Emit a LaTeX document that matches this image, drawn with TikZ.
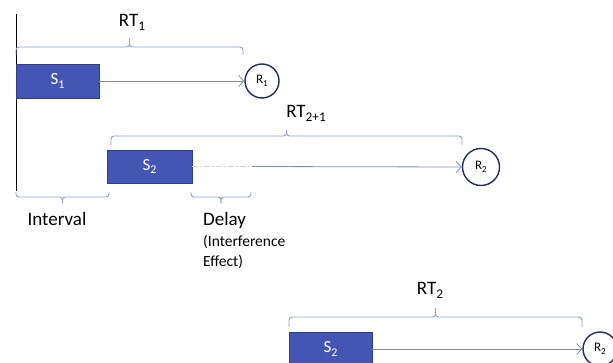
\documentclass[tikz,border=0pt]{standalone}
\usepackage{fontspec}
\setmainfont{Carlito}
\usetikzlibrary{arrows.meta}
\definecolor{boxfill}{RGB}{68,86,180}
\definecolor{boxedge}{RGB}{47,62,140}
\definecolor{ringedge}{RGB}{31,45,105}
\definecolor{flowline}{RGB}{125,142,176}
\definecolor{bracecol}{RGB}{140,160,200}
\newcommand{\lowsub}[1]{\raisebox{-0.45ex}{\scalebox{0.7}{#1}}}
% bracket: x-left, x-right, y of bar, y of the two ends, y of the tip
\newcommand{\bracketspan}[5]{%
  \draw[spanline] (#1,#4) -- (#1,#3) -- ({(#1+#2)/2},#3) -- ({(#1+#2)/2},#5);
  \draw[spanline] (#2,#4) -- (#2,#3) -- ({(#1+#2)/2},#3) -- ({(#1+#2)/2},#5);}
\tikzset{
  stim/.style={draw=boxedge, fill=boxfill, line width=0.8pt, text=white,
    inner sep=0pt, font=\fontsize{17}{17}\selectfont},
  resp/.style={circle, draw=ringedge, fill=white, line width=1.4pt,
    inner sep=0pt, font=\fontsize{13}{13}\selectfont},
  flow/.style={draw=flowline, line width=0.8pt,
    -{Straight Barb[length=5pt,width=11pt,line width=0.8pt]}},
  spanline/.style={draw=bracecol, line width=0.9pt, rounded corners=3pt},
  lbl/.style={inner sep=0pt, font=\fontsize{19}{19}\selectfont},
  note/.style={inner sep=0pt, anchor=west, font=\fontsize{15.5}{15.5}\selectfont},
}
\begin{document}
\begin{tikzpicture}[x=1pt, y=-1pt]
\useasboundingbox (0,0) rectangle (613,362);

% time axis
\coordinate (axtop) at (16,14);
\coordinate (axbot) at (16,191);
\draw[black, line width=0.9pt] (axtop) -- (axbot);

% first trial
\node[stim, minimum width=83pt, minimum height=34pt] (s1) at (57.5,81) {S\lowsub{1}};
\node[resp, minimum size=34pt] (r1) at (262,81) {R\lowsub{1}};
\draw[flow] (s1.east) -- (r1.west);
\bracketspan{16}{243}{47}{55}{38}
\node[lbl] (rt1) at (132,22) {RT\lowsub{1}};

% second trial, delayed
\node[stim, minimum width=85pt, minimum height=33pt] (s2) at (149.5,166.5) {S\lowsub{2}};
\node[resp, minimum size=37pt] (r2) at (481,167) {R\lowsub{2}};
\coordinate (dly) at (252,166.5);
\draw[gray!35, line width=0.9pt, dash pattern=on 6pt off 2pt on 2pt off 2pt] (s2.east) -- (dly);
\draw[flow] (dly) -- (r2.west);
\bracketspan{111}{462}{136}{145}{130}
\node[lbl] (rt21) at (306,113) {RT\lowsub{2+1}};

% interval and delay spans
\bracketspan{16}{109}{197}{192}{203}
\node[lbl] (intv) at (57,219) {Interval};
\bracketspan{191}{251}{197}{192}{203}
\node[lbl, anchor=west] (dlab) at (203,220) {Delay};
\node[note] (ie1) at (203,242) {(Interference};
\node[note] (ie2) at (203,262) {Effect)};

% second stimulus alone
\node[stim, minimum width=83pt, minimum height=34pt] (s3) at (330.5,349) {S\lowsub{2}};
\node[resp, minimum size=34pt] (r3) at (600,349) {R\lowsub{2}};
\draw[flow] (s3.east) -- (r3.west);
\bracketspan{289}{582}{317}{327}{308}
\node[lbl] (rt2) at (430,290) {RT\lowsub{2}};
\end{tikzpicture}
\end{document}
